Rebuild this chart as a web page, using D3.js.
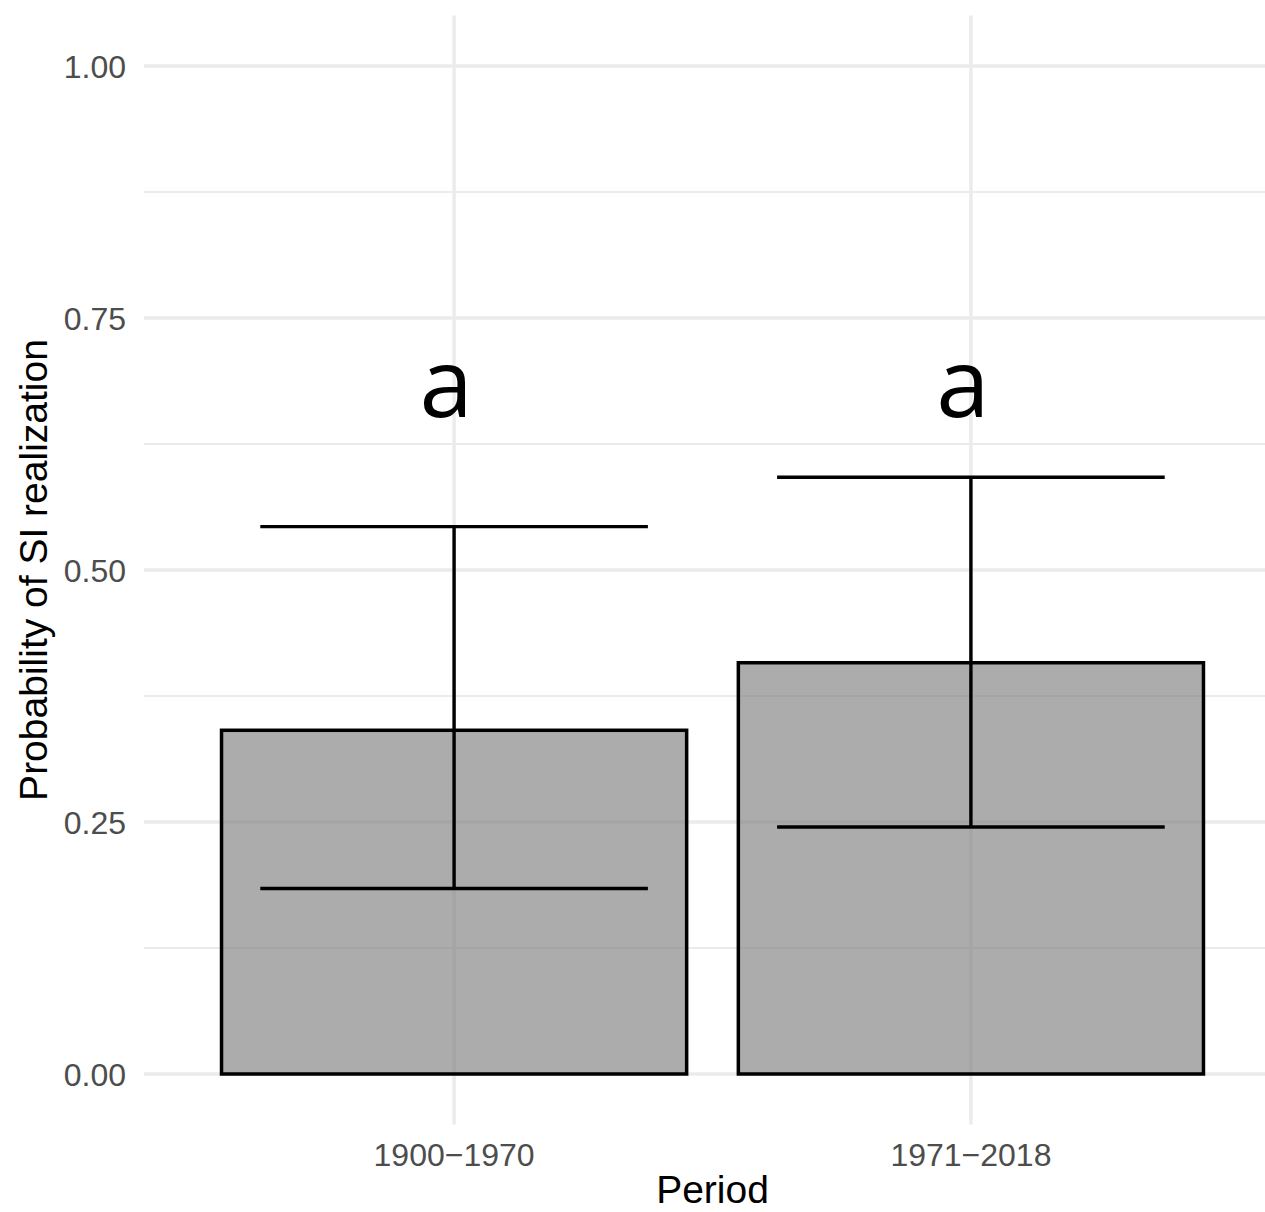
<!DOCTYPE html>
<html>
<head>
<meta charset="utf-8">
<script src="https://cdn.jsdelivr.net/npm/d3@7"></script>
<style>
  body { margin: 0; background: #fff; }
  svg { display: block; }
</style>
</head>
<body>
<script>
// chart values
var periods = ["1900\u22121970", "1971\u22122018"];
var probs = [0.341, 0.408];
var ciLow = [0.184, 0.245];
var ciHigh = [0.543, 0.592];
var letters = ["a", "a"];
var letterY = [0.652, 0.652];
var yTicks = [0, 0.25, 0.5, 0.75, 1];
var yMinor = [0.125, 0.375, 0.625, 0.875];

var W = 1265, H = 1212;

var svg = d3.select("body").append("svg")
  .attr("width", W)
  .attr("height", H);

// panel area (ggplot style expansion)
var x = d3.scalePoint()
  .domain(periods)
  .range([144, 1281])
  .padding(0.6);

var y = d3.scaleLinear()
  .domain([-0.05, 1.05])
  .range([1124.4, 15.6]);

var step = x.step();
var grid = svg.append("g");

// minor grid
grid.selectAll("line.minor")
  .data(yMinor)
  .enter().append("line")
  .attr("x1", 144).attr("x2", 1281)
  .attr("y1", d => y(d)).attr("y2", d => y(d))
  .attr("stroke", "#ebebeb")
  .attr("stroke-width", 1.8);

// major grid
grid.selectAll("line.major")
  .data(yTicks)
  .enter().append("line")
  .attr("x1", 144).attr("x2", 1281)
  .attr("y1", d => y(d)).attr("y2", d => y(d))
  .attr("stroke", "#ebebeb")
  .attr("stroke-width", 3.5);

grid.selectAll("line.vmajor")
  .data(periods)
  .enter().append("line")
  .attr("x1", d => x(d)).attr("x2", d => x(d))
  .attr("y1", y.range()[0]).attr("y2", y.range()[1])
  .attr("stroke", "#ebebeb")
  .attr("stroke-width", 3.5);

// bars
svg.selectAll("rect.bar")
  .data(periods)
  .enter().append("rect")
  .attr("x", d => x(d) - step * 0.45)
  .attr("width", step * 0.9)
  .attr("y", (d, i) => y(probs[i]))
  .attr("height", (d, i) => y(0) - y(probs[i]))
  .attr("fill", "#7f7f7f")
  .attr("fill-opacity", 0.65)
  .attr("stroke", "#000")
  .attr("stroke-width", 3.5);

// error bars
var eb = svg.selectAll("g.err")
  .data(periods)
  .enter().append("g")
  .attr("stroke", "#000")
  .attr("stroke-width", 3.4);

eb.append("line")
  .attr("x1", d => x(d)).attr("x2", d => x(d))
  .attr("y1", (d, i) => y(ciLow[i])).attr("y2", (d, i) => y(ciHigh[i]));
eb.append("line")
  .attr("x1", d => x(d) - step * 0.375).attr("x2", d => x(d) + step * 0.375)
  .attr("y1", (d, i) => y(ciLow[i])).attr("y2", (d, i) => y(ciLow[i]));
eb.append("line")
  .attr("x1", d => x(d) - step * 0.375).attr("x2", d => x(d) + step * 0.375)
  .attr("y1", (d, i) => y(ciHigh[i])).attr("y2", (d, i) => y(ciHigh[i]));

// group letters
svg.selectAll("text.letter")
  .data(periods)
  .enter().append("text")
  .attr("x", d => x(d))
  .attr("dx", -8)
  .attr("y", (d, i) => y(letterY[i]))
  .attr("text-anchor", "middle")
  .attr("font-family", "Open Sans, sans-serif")
  .attr("font-size", "96px")
  .attr("fill", "#000")
  .text((d, i) => letters[i]);

// y tick labels
svg.selectAll("text.ytick")
  .data(yTicks)
  .enter().append("text")
  .attr("x", 126)
  .attr("y", d => y(d))
  .attr("dy", "0.36em")
  .attr("text-anchor", "end")
  .attr("font-family", "Liberation Sans, Arial, sans-serif")
  .attr("font-size", "32px")
  .attr("fill", "#4d4d4d")
  .text(d => d3.format(".2f")(d));

// x tick labels
svg.selectAll("text.xtick")
  .data(periods)
  .enter().append("text")
  .attr("x", d => x(d))
  .attr("y", 1166)
  .attr("text-anchor", "middle")
  .attr("font-family", "Liberation Sans, Arial, sans-serif")
  .attr("font-size", "32px")
  .attr("fill", "#4d4d4d")
  .text(d => d);

// axis titles
svg.append("text")
  .attr("x", 712.5)
  .attr("y", 1203)
  .attr("text-anchor", "middle")
  .attr("font-family", "Liberation Sans, Arial, sans-serif")
  .attr("font-size", "39px")
  .attr("fill", "#000")
  .text("Period");

svg.append("text")
  .attr("transform", "translate(47," + (y(0.5)) + ") rotate(-90)")
  .attr("text-anchor", "middle")
  .attr("font-family", "Liberation Sans, Arial, sans-serif")
  .attr("font-size", "39px")
  .attr("fill", "#000")
  .text("Probability of SI realization");
</script>
</body>
</html>
